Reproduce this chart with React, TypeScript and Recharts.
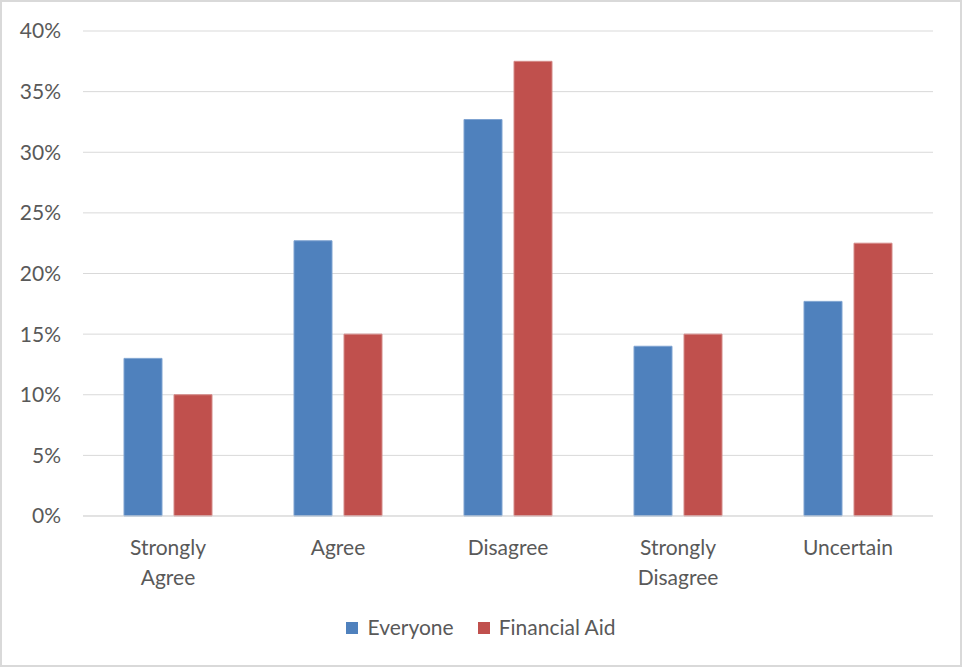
import React from 'react';
import {
  BarChart,
  Bar,
  XAxis,
  YAxis,
  CartesianGrid,
  Legend,
} from 'recharts';

const categories = ['Strongly Agree', 'Agree', 'Disagree', 'Strongly Disagree', 'Uncertain'];
const everyone = [13, 22.7, 32.7, 14, 17.7];
const financialAid = [10, 15, 37.5, 15, 22.5];
const yTicks = [0, 5, 10, 15, 20, 25, 30, 35, 40];

const data = categories.map((name, i) => ({
  name,
  Everyone: everyone[i],
  'Financial Aid': financialAid[i],
}));

const FONT = 'Lato, sans-serif';
const TEXT = '#595959';
const SIZE = 21;

function CategoryTick({ x, y, payload }: any) {
  const words = String(payload.value).split(' ');
  return (
    <text x={x} y={y} textAnchor="middle" fill={TEXT} fontFamily={FONT} fontSize={SIZE}>
      {words.map((w, i) => (
        <tspan key={i} x={x} dy={i === 0 ? 31 : 30}>
          {w}
        </tspan>
      ))}
    </text>
  );
}

function LegendContent({ payload }: any) {
  return (
    <div style={{ display: 'flex', justifyContent: 'center', gap: 24, fontFamily: FONT, fontSize: SIZE, color: TEXT }}>
      {(payload || []).map((p: any) => (
        <div key={p.value} style={{ display: 'flex', alignItems: 'center' }}>
          <span style={{ display: 'inline-block', width: 12, height: 12, background: p.color, marginRight: 9, marginTop: 3 }} />
          <span>{p.value}</span>
        </div>
      ))}
    </div>
  );
}

export default function App() {
  return (
    <div
      style={{
        position: 'absolute',
        left: 0,
        top: 0,
        width: 962,
        height: 667,
        boxSizing: 'border-box',
        border: '2px solid #d9d9d9',
        background: '#fff',
      }}
    >
      <div style={{ position: 'absolute', left: -2, top: -2 }}>
        <BarChart
          width={962}
          height={667}
          data={data}
          margin={{ top: 31, right: 29, left: 0, bottom: 96 }}
          barSize={38}
          barGap={12}
        >
          <CartesianGrid vertical={false} stroke="#d9d9d9" />
          <XAxis
            dataKey="name"
            stroke="#d9d9d9"
            tickLine={false}
            interval={0}
            tick={<CategoryTick />}
          />
          <YAxis
            width={83}
            domain={[0, 40]}
            ticks={yTicks}
            axisLine={false}
            tickLine={false}
            tickSize={0}
            tickMargin={22}
            tickFormatter={(v) => `${v}%`}
            tick={{ fill: TEXT, fontFamily: FONT, fontSize: SIZE }}
          />
          <Legend
            verticalAlign="bottom"
            wrapperStyle={{ top: 614, left: 0, width: 962 }}
            content={<LegendContent />}
          />
          <Bar dataKey="Everyone" fill="#4f81bd" stroke="#7fa3d1" strokeWidth={1} isAnimationActive={false} />
          <Bar dataKey="Financial Aid" fill="#c0504d" stroke="#d48a88" strokeWidth={1} isAnimationActive={false} />
        </BarChart>
      </div>
    </div>
  );
}
